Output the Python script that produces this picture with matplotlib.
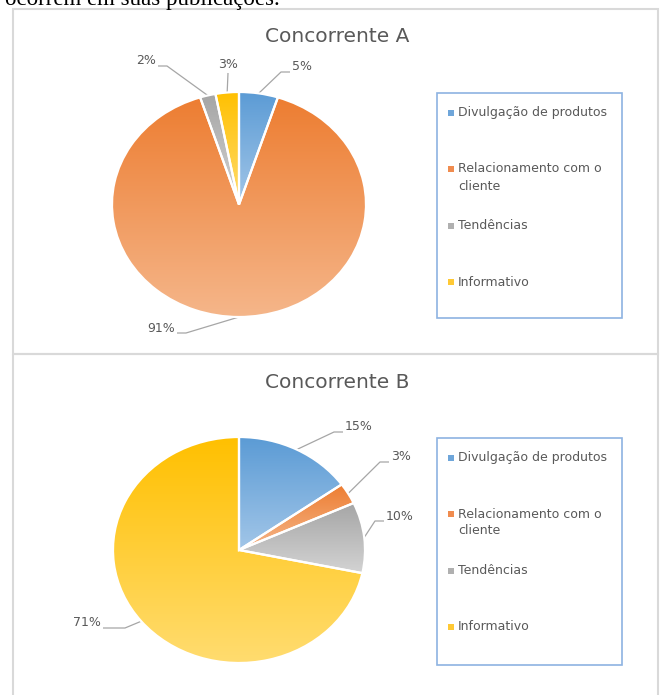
import numpy as np
import matplotlib
matplotlib.use('Agg')
import matplotlib.pyplot as plt
from matplotlib.colors import LinearSegmentedColormap
from matplotlib.patches import Rectangle

# data
categories = ['Divulgação de produtos', 'Relacionamento com o\ncliente', 'Tendências', 'Informativo']
titles = ['Concorrente A', 'Concorrente B']
values_a = [5, 91, 2, 3]
values_b = [15, 3, 10, 71]

# gradient top -> bottom for every slice (Excel style)
grad_colors = [('#5b9bd5', '#a2c6e8'),
               ('#ed7d31', '#f5b68a'),
               ('#a5a5a5', '#d3d3d3'),
               ('#ffc000', '#ffdc70')]
legend_colors = ['#6fa6da', '#f08c4f', '#b0b0b0', '#ffc935']

W, H = 662, 695
TXT = '#595959'
LINE = '#a6a6a6'

# layout, in pixels of the picture
pie_boxes = [(112, 92, 366, 317), (113, 437, 365, 663)]   # left, top, right, bottom
title_y = [37, 383]
legend_boxes = [(437, 93, 185, 225), (437, 438, 185, 227)]
# label text anchor (near side), label y, alignment, horizontal leader length
label_pos = [[(292, 67, 'left', 9), (175, 328, 'right', 9), (156, 61, 'right', 9), (228, 65, 'center', 0)],
             [(345, 427, 'left', 9), (391, 457, 'left', 9), (386, 516, 'left', 9), (101, 623, 'right', 22)]]


def px(x, y):
    return x / W, 1 - y / H


fig = plt.figure(figsize=(W / 100, H / 100), dpi=100)
ov = fig.add_axes([0, 0, 1, 1])
ov.set_xlim(0, W)
ov.set_ylim(H, 0)
ov.axis('off')

# cropped sentence from the document above the charts
ov.text(5, 5, 'ocorrem em suas publicações.', fontsize=16.5, family='Liberation Serif',
        va='baseline', ha='left', color='black')

# panel borders
ov.add_patch(Rectangle((13, 9), 645, 345, fill=False, ec='#d9d9d9', lw=1.5))
ov.add_patch(Rectangle((13, 354), 645, 360, fill=False, ec='#d9d9d9', lw=1.5))

for k, vals in enumerate([values_a, values_b]):
    l, t, r, b = pie_boxes[k]
    x0, y0 = px(l, b)
    ax = fig.add_axes([x0, y0, (r - l) / W, (b - t) / H])
    wedges, _ = ax.pie(vals, startangle=90, counterclock=False, radius=1,
                       wedgeprops=dict(edgecolor='white', linewidth=1.6))
    for w, (c0, c1) in zip(wedges, grad_colors):
        bb = w.get_path().get_extents()
        cmap = LinearSegmentedColormap.from_list('g', [c0, c1])
        grad = np.linspace(0, 1, 256).reshape(-1, 1)
        im = ax.imshow(grad, cmap=cmap, extent=[bb.x0, bb.x1, bb.y0, bb.y1],
                       origin='upper', aspect='auto', zorder=1)
        im.set_clip_path(w)
        w.set_facecolor('none')
        w.set_zorder(2)
        w.set_clip_on(False)
    ax.set_aspect('auto')
    ax.set_xlim(-1, 1)
    ax.set_ylim(-1, 1)
    ax.axis('off')

    # title
    ov.text((l + r) / 2 + 98, title_y[k], titles[k], fontsize=14.5, color=TXT,
            ha='center', va='center')

    # data labels with leader lines
    cx, cy = (l + r) / 2, (t + b) / 2
    rx, ry = (r - l) / 2, (b - t) / 2
    total = sum(vals)
    cum = 0
    for v, (tx, ty, ha, seg) in zip(vals, label_pos[k]):
        mid = 90 - 360 * (cum + v / 2) / total
        cum += v
        ex = cx + rx * np.cos(np.radians(mid))
        ey = cy - ry * np.sin(np.radians(mid))
        if ha == 'center':
            xs, ys = [ex, tx], [ey, ty + 8]
        else:
            s = 1 if ha == 'left' else -1
            end = tx - s * 2
            xs, ys = [ex, end - s * seg, end], [ey, ty + 5, ty + 5]
        ov.plot(xs, ys, color=LINE, lw=0.9, solid_capstyle='butt')
        ov.text(tx, ty, f'{v}%', fontsize=9, color=TXT, ha=ha, va='center')

    # legend
    lx, ly, lw_, lh = legend_boxes[k]
    ov.add_patch(Rectangle((lx, ly), lw_, lh, fill=False, ec='#8db3e2', lw=1.2))
    for i, (cat, col) in enumerate(zip(categories, legend_colors)):
        yy = ly + 19.5 + i * 56.5
        ov.add_patch(Rectangle((lx + 11, yy - 3), 6, 6, fc=col, ec='none'))
        for j, line in enumerate(cat.split('\n')):
            ov.text(lx + 21, yy + j * 17, line, fontsize=9, color=TXT,
                    ha='left', va='center')

fig.savefig('out.png', dpi=100)
